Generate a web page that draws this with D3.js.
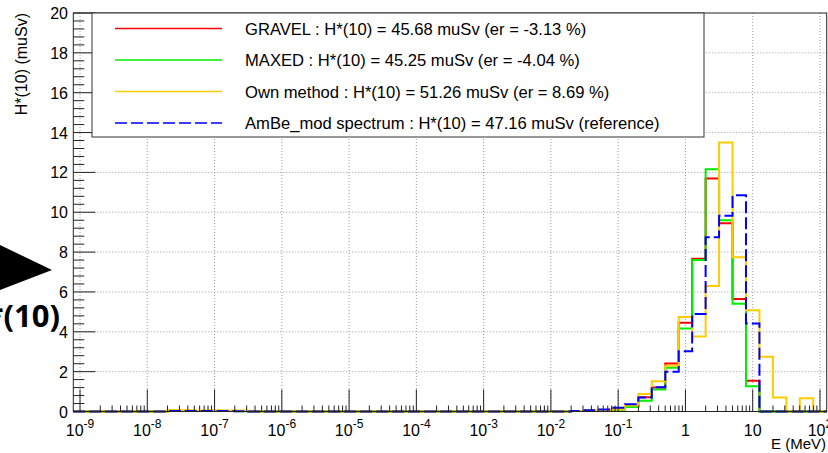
<!DOCTYPE html>
<html>
<head>
<meta charset="utf-8">
<script src="https://cdn.jsdelivr.net/npm/d3@7"></script>
<style>
  body { margin: 0; background: #fff; }
  svg { display: block; font-family: "Liberation Sans", Arial, sans-serif; }
</style>
</head>
<body>
<div id="chart"></div>
<script>
// binning: 56 bins, 0.2 decade wide, from 10^-9.1 to 10^2.1 MeV
const binLogMin = -9.1;
const binLogStep = 0.2;
const nBins = 56;

const gravel = [
  0, 0, 0, 0, 0, 0, 0, 0.03,
  0.03, 0.03, 0.03, 0.02, 0.02, 0, 0, 0,
  0, 0, 0, 0, 0, 0, 0, 0,
  0, 0, 0, 0, 0, 0, 0, 0,
  0, 0, 0, 0, 0, 0.02, 0.03, 0.05,
  0.1, 0.25, 0.72, 1.2, 2.41, 4.46, 7.67, 11.69,
  9.45, 5.64, 1.54, 0, 0, 0, 0, 0
];
const maxed = [
  0, 0, 0, 0, 0, 0, 0, 0.02,
  0.02, 0.02, 0.02, 0.02, 0.01, 0, 0, 0,
  0, 0, 0, 0, 0, 0, 0, 0,
  0, 0, 0, 0, 0, 0, 0, 0,
  0, 0, 0, 0, 0, 0.02, 0.02, 0.04,
  0.08, 0.23, 0.54, 1.1, 2.19, 4.17, 7.6, 12.16,
  9.6, 5.41, 1.27, 0, 0, 0, 0, 0
];
const ownMethod = [
  0, 0, 0, 0, 0, 0, 0, 0.08,
  0.06, 0.05, 0.06, 0.05, 0.05, 0, 0, 0,
  0, 0, 0, 0, 0, 0, 0, 0,
  0, 0, 0, 0, 0, 0, 0, 0,
  0, 0, 0, 0, 0, 0.02, 0.07, 0.06,
  0.1, 0.3, 0.88, 1.52, 2.3, 4.74, 3.77, 6.3,
  13.5, 7.74, 5.08, 2.75, 0.7, 0, 0.67, 0
];
const ambe = [
  0, 0, 0, 0, 0, 0, 0, 0.02,
  0.03, 0.03, 0.03, 0.02, 0.01, 0, 0, 0,
  0, 0, 0, 0, 0, 0, 0, 0,
  0, 0, 0, 0, 0, 0, 0, 0,
  0, 0, 0, 0, 0, 0.03, 0.06, 0.1,
  0.19, 0.37, 0.7, 1.22, 1.99, 3.03, 4.89, 8.75,
  9.82, 10.85, 4.42, 0, 0, 0, 0, 0
];

const seriesNames = ["GRAVEL", "MAXED", "Own method", "AmBe_mod spectrum"];
const legendLabels = [
  "GRAVEL : H*(10) = 45.68 muSv (er = -3.13 %)",
  "MAXED : H*(10) = 45.25 muSv (er = -4.04 %)",
  "Own method : H*(10) = 51.26 muSv (er = 8.69 %)",
  "AmBe_mod spectrum : H*(10) = 47.16 muSv (reference)"
];
const seriesColors = ["#ff0000", "#00ee00", "#ffcc00", "#0000ff"];
const seriesValues = [gravel, maxed, ownMethod, ambe];

const xDecades = [-9, -8, -7, -6, -5, -4, -3, -2, -1, 0, 1, 2];
const yTicks = [0, 2, 4, 6, 8, 10, 12, 14, 16, 18, 20];

const W = 828, H = 453;
const plot = { left: 73.3, right: 826.7, top: 13, bottom: 411.5 };

const x = d3.scaleLog()
    .domain([Math.pow(10, binLogMin), Math.pow(10, binLogMin + binLogStep * nBins)])
    .range([plot.left, plot.right]);
const y = d3.scaleLinear().domain([0, 20]).range([plot.bottom, plot.top]);

const edges = d3.range(nBins + 1).map(i => Math.pow(10, binLogMin + binLogStep * i));

const svg = d3.select("#chart").append("svg")
    .attr("width", W)
    .attr("height", H);

// grid
const grid = svg.append("g").attr("stroke", "#9a9a9a").attr("stroke-dasharray", "1,2");
xDecades.forEach(d => {
    grid.append("line")
        .attr("x1", x(Math.pow(10, d))).attr("x2", x(Math.pow(10, d)))
        .attr("y1", plot.top).attr("y2", plot.bottom);
});
yTicks.slice(1, -1).forEach(v => {
    grid.append("line")
        .attr("x1", plot.left).attr("x2", plot.right)
        .attr("y1", y(v)).attr("y2", y(v));
});

// histograms
const stepPath = vals => {
    const p = d3.path();
    p.moveTo(x(edges[0]), y(0));
    vals.forEach((v, i) => {
        p.lineTo(x(edges[i]), y(v));
        p.lineTo(x(edges[i + 1]), y(v));
    });
    p.lineTo(x(edges[nBins]), y(0));
    return p.toString();
};

seriesValues.forEach((vals, k) => {
    svg.append("path")
        .attr("d", stepPath(vals))
        .attr("fill", "none")
        .attr("stroke", seriesColors[k])
        .attr("stroke-width", 2)
        .attr("stroke-dasharray", k === 3 ? "12,4" : null);
});

// frame
svg.append("rect")
    .attr("x", plot.left).attr("y", plot.top)
    .attr("width", plot.right - plot.left).attr("height", plot.bottom - plot.top)
    .attr("fill", "none").attr("stroke", "#222").attr("stroke-width", 1);

// y ticks
const ticks = svg.append("g").attr("stroke", "#222").attr("stroke-width", 1);
d3.range(0, 20.01, 0.4).forEach(v => {
    const major = Math.abs(v / 2 - Math.round(v / 2)) < 1e-6;
    ticks.append("line")
        .attr("x1", plot.left).attr("x2", plot.left + (major ? 22 : 11))
        .attr("y1", y(v)).attr("y2", y(v));
});
// x ticks
xDecades.forEach(d => {
    ticks.append("line")
        .attr("x1", x(Math.pow(10, d))).attr("x2", x(Math.pow(10, d)))
        .attr("y1", plot.bottom).attr("y2", plot.bottom - 22);
    d3.range(2, 10).forEach(m => {
        const e = m * Math.pow(10, d);
        if (e > x.domain()[1]) return;
        ticks.append("line")
            .attr("x1", x(e)).attr("x2", x(e))
            .attr("y1", plot.bottom).attr("y2", plot.bottom - 6);
    });
});

// tick labels
svg.append("g").selectAll("text")
    .data(yTicks)
    .enter().append("text")
    .attr("x", 68)
    .attr("y", d => y(d) + 6)
    .attr("text-anchor", "end")
    .style("font-size", "16px")
    .text(d => d);

const xl = svg.append("g").selectAll("text")
    .data(xDecades)
    .enter().append("text")
    .attr("x", d => x(Math.pow(10, d)))
    .attr("y", 436)
    .attr("text-anchor", "middle")
    .style("font-size", "16px");
xl.append("tspan").text(d => d === 0 ? "1" : "10");
xl.filter(d => d !== 0 && d !== 1)
    .append("tspan")
    .attr("dy", -8)
    .style("font-size", "12px")
    .text(d => d);

// axis titles
svg.append("text")
    .attr("transform", `translate(27,${plot.top}) rotate(-90)`)
    .attr("text-anchor", "end")
    .style("font-size", "16px")
    .text("H*(10) (muSv)");

svg.append("text")
    .attr("x", 826).attr("y", 449)
    .attr("text-anchor", "end")
    .style("font-size", "15px")
    .text("E (MeV)");

// legend
const legend = svg.append("g");
legend.append("rect")
    .attr("x", 92).attr("y", plot.top)
    .attr("width", 612).attr("height", 124)
    .attr("fill", "#fff").attr("stroke", "#333").attr("stroke-width", 1);
legendLabels.forEach((label, k) => {
    const cy = plot.top + 15.5 + 31.5 * k;
    legend.append("line")
        .attr("x1", 115).attr("x2", 222)
        .attr("y1", cy).attr("y2", cy)
        .attr("stroke", seriesColors[k])
        .attr("stroke-width", 1.5)
        .attr("stroke-dasharray", k === 3 ? "12,4" : null);
    legend.append("text")
        .attr("x", 245).attr("y", cy + 6)
        .style("font-size", "16.6px")
        .text(label);
});

// slide annotation leftovers (arrow + bold label cut by the crop)
svg.append("path")
    .attr("d", "M0,245L52,270L0,290Z")
    .attr("fill", "#000");
svg.append("text")
    .attr("x", 60).attr("y", 327)
    .attr("text-anchor", "end")
    .style("font-family", "'Open Sans', 'Noto Sans', sans-serif")
    .style("font-weight", "bold")
    .style("font-size", "31px")
    .text("H*(10)");
</script>
</body>
</html>
